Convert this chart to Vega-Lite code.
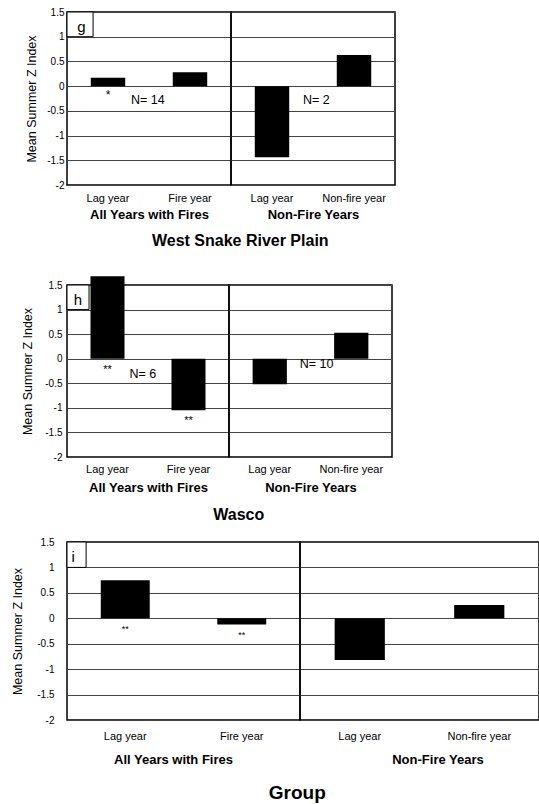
{
  "$schema": "https://vega.github.io/schema/vega-lite/v6.json",
  "padding": {"left": 10, "top": 6, "right": 0, "bottom": 0},
  "background": "white",
  "config": {
    "font": "Liberation Sans",
    "view": {"stroke": "black", "strokeWidth": 1.5},
    "axis": {"labelFont": "Liberation Sans", "titleFont": "Liberation Sans", "labelColor": "black", "titleColor": "black", "ticks": false, "domain": false},
    "axisX": {"grid": false, "labelAngle": 0, "labelFontSize": 11, "titleFontSize": 13, "titleFontWeight": "bold"},
    "axisY": {"grid": true, "gridColor": "#444", "gridOpacity": 1, "gridWidth": 1, "labelFontSize": 10, "titleFontSize": 12.5, "titleFontWeight": "normal"},
    "title": {"font": "Liberation Sans", "fontWeight": "bold", "color": "black"},
    "text": {"font": "Liberation Sans", "color": "black"}
  },
  "vconcat": [
    {
      "vconcat": [
        {
          "title": {"text": "West Snake River Plain", "orient": "bottom", "anchor": "middle", "frame": "bounds", "fontSize": 16, "offset": 11, "dx": 30},
          "bounds": "flush",
          "spacing": 0,
          "hconcat": [
            {
              "width": 164, "height": 173,
              "layer": [
                {
                  "data": {"values": [{"slot": "Lag year", "value": 0.17, "sig": "*"}, {"slot": "Fire year", "value": 0.28, "sig": ""}]},
                  "layer": [
                    {"mark": {"type": "bar", "color": "black"},
                     "encoding": {
                       "x": {"field": "slot", "type": "nominal", "sort": null, "scale": {"domain": ["Lag year", "Fire year"], "paddingInner": 0.58, "paddingOuter": 0.29}, "axis": {"title": "All Years with Fires", "labelPadding": 7, "titlePadding": 5}},
                       "y": {"field": "value", "type": "quantitative", "scale": {"domain": [-2, 1.5], "nice": false, "zero": false}, "axis": {"title": "Mean Summer Z Index", "values": [-2, -1.5, -1, -0.5, 0, 0.5, 1, 1.5], "labelExpr": "toString(datum.value)", "labelPadding": 3, "minExtent": 22, "maxExtent": 22, "titlePadding": 6.5}}
                     }},
                    {"transform": [{"filter": "datum.sig"}, {"calculate": "min(datum.value, 0)", "as": "ylow"}],
                     "mark": {"type": "text", "baseline": "top", "dy": 4, "fontSize": 12},
                     "encoding": {
                       "x": {"field": "slot", "type": "nominal", "sort": null, "axis": {"title": "All Years with Fires", "labelPadding": 7, "titlePadding": 5}},
                       "y": {"field": "ylow", "type": "quantitative", "axis": {"title": "Mean Summer Z Index", "values": [-2, -1.5, -1, -0.5, 0, 0.5, 1, 1.5], "labelExpr": "toString(datum.value)", "labelPadding": 3, "minExtent": 22, "maxExtent": 22, "titlePadding": 6.5}},
                       "text": {"field": "sig"}}},
                    {"data": {"values": [{"slot": "Lag year", "label": "N= 14"}]},
                     "mark": {"type": "text", "align": "left", "baseline": "middle", "dx": 23, "dy": 14, "fontSize": 12.5},
                     "encoding": {
                       "x": {"field": "slot", "type": "nominal", "sort": null, "axis": {"title": "All Years with Fires", "labelPadding": 7, "titlePadding": 5}},
                       "y": {"datum": 0, "type": "quantitative", "axis": {"title": "Mean Summer Z Index", "values": [-2, -1.5, -1, -0.5, 0, 0.5, 1, 1.5], "labelExpr": "toString(datum.value)", "labelPadding": 3, "minExtent": 22, "maxExtent": 22, "titlePadding": 6.5}},
                       "text": {"field": "label"}}}
                  ]
                },
                {
                  "data": {"values": [{"letter": "g"}]},
                  "layer": [
                    {"mark": {"type": "rect", "fill": "white", "stroke": "black", "strokeWidth": 1},
                     "encoding": {"x": {"datum": 0, "type": "quantitative", "scale": {"domain": [0, 1]}, "axis": null}, "x2": {"datum": 0.159},
                       "y": {"datum": 1.5, "type": "quantitative", "axis": {"title": "Mean Summer Z Index", "values": [-2, -1.5, -1, -0.5, 0, 0.5, 1, 1.5], "labelExpr": "toString(datum.value)", "labelPadding": 3, "minExtent": 22, "maxExtent": 22, "titlePadding": 6.5}}, "y2": {"datum": 1}}},
                    {"mark": {"type": "text", "fontSize": 15, "align": "center", "baseline": "alphabetic", "dy": -5},
                     "encoding": {"x": {"datum": 0.088, "type": "quantitative", "axis": null},
                       "y": {"datum": 1, "type": "quantitative", "axis": {"title": "Mean Summer Z Index", "values": [-2, -1.5, -1, -0.5, 0, 0.5, 1, 1.5], "labelExpr": "toString(datum.value)", "labelPadding": 3, "minExtent": 22, "maxExtent": 22, "titlePadding": 6.5}}, "text": {"field": "letter"}}}
                  ]
                }
              ],
              "resolve": {"scale": {"x": "independent"}}
            },
            {
              "width": 164, "height": 173,
              "data": {"values": [{"slot": "Lag year", "value": -1.44}, {"slot": "Non-fire year", "value": 0.63}]},
              "layer": [
                {"mark": {"type": "bar", "color": "black"},
                 "encoding": {
                   "x": {"field": "slot", "type": "nominal", "sort": null, "scale": {"domain": ["Lag year", "Non-fire year"], "paddingInner": 0.58, "paddingOuter": 0.29}, "axis": {"title": "Non-Fire Years", "labelPadding": 7, "titlePadding": 5}},
                   "y": {"field": "value", "type": "quantitative", "scale": {"domain": [-2, 1.5], "nice": false, "zero": false}, "axis": {"title": null, "labels": false, "values": [-2, -1.5, -1, -0.5, 0, 0.5, 1, 1.5]}}
                 }},
                {"data": {"values": [{"slot": "Lag year", "label": "N= 2"}]},
                 "mark": {"type": "text", "align": "left", "baseline": "middle", "dx": 31, "dy": 14, "fontSize": 12.5},
                 "encoding": {
                   "x": {"field": "slot", "type": "nominal", "sort": null, "axis": {"title": "Non-Fire Years", "labelPadding": 7, "titlePadding": 5}},
                   "y": {"datum": 0, "type": "quantitative", "axis": {"title": null, "labels": false, "values": [-2, -1.5, -1, -0.5, 0, 0.5, 1, 1.5]}},
                   "text": {"field": "label"}}}
              ]
            }
          ]
        },
        {
          "title": {"text": "Wasco", "orient": "bottom", "anchor": "middle", "frame": "bounds", "fontSize": 16, "offset": 12, "dx": 32},
          "bounds": "flush",
          "spacing": 0,
          "hconcat": [
            {
              "width": 162, "height": 172,
              "layer": [
                {
                  "data": {"values": [{"slot": "Lag year", "value": 1.68, "sig": "**"}, {"slot": "Fire year", "value": -1.05, "sig": "**"}]},
                  "layer": [
                    {"mark": {"type": "bar", "color": "black"},
                     "encoding": {
                       "x": {"field": "slot", "type": "nominal", "sort": null, "scale": {"domain": ["Lag year", "Fire year"], "paddingInner": 0.58, "paddingOuter": 0.29}, "axis": {"title": "All Years with Fires", "labelPadding": 6.5, "titlePadding": 7}},
                       "y": {"field": "value", "type": "quantitative", "scale": {"domain": [-2, 1.5], "nice": false, "zero": false}, "axis": {"title": "Mean Summer Z Index", "values": [-2, -1.5, -1, -0.5, 0, 0.5, 1, 1.5], "labelExpr": "toString(datum.value)", "labelPadding": 5, "minExtent": 22, "maxExtent": 22, "titlePadding": 10.5}}
                     }},
                    {"transform": [{"filter": "datum.sig"}, {"calculate": "min(datum.value, 0)", "as": "ylow"}],
                     "mark": {"type": "text", "baseline": "top", "dy": 5, "fontSize": 11},
                     "encoding": {
                       "x": {"field": "slot", "type": "nominal", "sort": null, "axis": {"title": "All Years with Fires", "labelPadding": 6.5, "titlePadding": 7}},
                       "y": {"field": "ylow", "type": "quantitative", "axis": {"title": "Mean Summer Z Index", "values": [-2, -1.5, -1, -0.5, 0, 0.5, 1, 1.5], "labelExpr": "toString(datum.value)", "labelPadding": 5, "minExtent": 22, "maxExtent": 22, "titlePadding": 10.5}},
                       "text": {"field": "sig"}}},
                    {"data": {"values": [{"slot": "Lag year", "label": "N= 6"}]},
                     "mark": {"type": "text", "align": "left", "baseline": "middle", "dx": 22, "dy": 15, "fontSize": 12.5},
                     "encoding": {
                       "x": {"field": "slot", "type": "nominal", "sort": null, "axis": {"title": "All Years with Fires", "labelPadding": 6.5, "titlePadding": 7}},
                       "y": {"datum": 0, "type": "quantitative", "axis": {"title": "Mean Summer Z Index", "values": [-2, -1.5, -1, -0.5, 0, 0.5, 1, 1.5], "labelExpr": "toString(datum.value)", "labelPadding": 5, "minExtent": 22, "maxExtent": 22, "titlePadding": 10.5}},
                       "text": {"field": "label"}}}
                  ]
                },
                {
                  "data": {"values": [{"letter": "h"}]},
                  "layer": [
                    {"mark": {"type": "rect", "fill": "white", "stroke": "black", "strokeWidth": 1},
                     "encoding": {"x": {"datum": 0, "type": "quantitative", "scale": {"domain": [0, 1]}, "axis": null}, "x2": {"datum": 0.136},
                       "y": {"datum": 1.5, "type": "quantitative", "axis": {"title": "Mean Summer Z Index", "values": [-2, -1.5, -1, -0.5, 0, 0.5, 1, 1.5], "labelExpr": "toString(datum.value)", "labelPadding": 5, "minExtent": 22, "maxExtent": 22, "titlePadding": 10.5}}, "y2": {"datum": 1}}},
                    {"mark": {"type": "text", "fontSize": 15, "align": "center", "baseline": "alphabetic", "dy": -5},
                     "encoding": {"x": {"datum": 0.068, "type": "quantitative", "axis": null},
                       "y": {"datum": 1, "type": "quantitative", "axis": {"title": "Mean Summer Z Index", "values": [-2, -1.5, -1, -0.5, 0, 0.5, 1, 1.5], "labelExpr": "toString(datum.value)", "labelPadding": 5, "minExtent": 22, "maxExtent": 22, "titlePadding": 10.5}}, "text": {"field": "letter"}}}
                  ]
                }
              ],
              "resolve": {"scale": {"x": "independent"}}
            },
            {
              "width": 163, "height": 172,
              "data": {"values": [{"slot": "Lag year", "value": -0.52}, {"slot": "Non-fire year", "value": 0.53}]},
              "layer": [
                {"mark": {"type": "bar", "color": "black"},
                 "encoding": {
                   "x": {"field": "slot", "type": "nominal", "sort": null, "scale": {"domain": ["Lag year", "Non-fire year"], "paddingInner": 0.58, "paddingOuter": 0.29}, "axis": {"title": "Non-Fire Years", "labelPadding": 6.5, "titlePadding": 7}},
                   "y": {"field": "value", "type": "quantitative", "scale": {"domain": [-2, 1.5], "nice": false, "zero": false}, "axis": {"title": null, "labels": false, "values": [-2, -1.5, -1, -0.5, 0, 0.5, 1, 1.5]}}
                 }},
                {"data": {"values": [{"slot": "Lag year", "label": "N= 10"}]},
                 "mark": {"type": "text", "align": "left", "baseline": "middle", "dx": 30, "dy": 5, "fontSize": 12.5},
                 "encoding": {
                   "x": {"field": "slot", "type": "nominal", "sort": null, "axis": {"title": "Non-Fire Years", "labelPadding": 6.5, "titlePadding": 7}},
                   "y": {"datum": 0, "type": "quantitative", "axis": {"title": null, "labels": false, "values": [-2, -1.5, -1, -0.5, 0, 0.5, 1, 1.5]}},
                   "text": {"field": "label"}}}
              ]
            }
          ]
        }
      ],
      "spacing": 26
    },
    {
      "title": {"text": "Group", "orient": "bottom", "anchor": "middle", "frame": "bounds", "fontSize": 19, "offset": 17, "dx": 22},
      "bounds": "flush",
      "spacing": 0,
      "hconcat": [
        {
          "width": 233, "height": 178,
          "layer": [
            {
              "data": {"values": [{"slot": "Lag year", "value": 0.75, "sig": "**"}, {"slot": "Fire year", "value": -0.12, "sig": "**"}]},
              "layer": [
                {"mark": {"type": "bar", "color": "black"},
                 "encoding": {
                   "x": {"field": "slot", "type": "nominal", "sort": null, "scale": {"domain": ["Lag year", "Fire year"], "paddingInner": 0.58, "paddingOuter": 0.29}, "axis": {"title": "All Years with Fires", "labelPadding": 10, "titlePadding": 12, "titleX": 106}},
                   "y": {"field": "value", "type": "quantitative", "scale": {"domain": [-2, 1.5], "nice": false, "zero": false}, "axis": {"title": "Mean Summer Z Index", "values": [-2, -1.5, -1, -0.5, 0, 0.5, 1, 1.5], "labelExpr": "toString(datum.value)", "labelPadding": 13, "minExtent": 22, "maxExtent": 22, "titlePadding": 20.5}}
                 }},
                {"transform": [{"filter": "datum.sig"}, {"calculate": "min(datum.value, 0)", "as": "ylow"}],
                 "mark": {"type": "text", "baseline": "top", "dy": 7, "fontSize": 9},
                 "encoding": {
                   "x": {"field": "slot", "type": "nominal", "sort": null, "axis": {"title": "All Years with Fires", "labelPadding": 10, "titlePadding": 12, "titleX": 106}},
                   "y": {"field": "ylow", "type": "quantitative", "axis": {"title": "Mean Summer Z Index", "values": [-2, -1.5, -1, -0.5, 0, 0.5, 1, 1.5], "labelExpr": "toString(datum.value)", "labelPadding": 13, "minExtent": 22, "maxExtent": 22, "titlePadding": 20.5}},
                   "text": {"field": "sig"}}}
              ]
            },
            {
              "data": {"values": [{"letter": "i"}]},
              "layer": [
                {"mark": {"type": "rect", "fill": "white", "stroke": "black", "strokeWidth": 1},
                 "encoding": {"x": {"datum": 0, "type": "quantitative", "scale": {"domain": [0, 1]}, "axis": null}, "x2": {"datum": 0.082},
                   "y": {"datum": 1.5, "type": "quantitative", "axis": {"title": "Mean Summer Z Index", "values": [-2, -1.5, -1, -0.5, 0, 0.5, 1, 1.5], "labelExpr": "toString(datum.value)", "labelPadding": 13, "minExtent": 22, "maxExtent": 22, "titlePadding": 20.5}}, "y2": {"datum": 1}}},
                {"mark": {"type": "text", "fontSize": 15, "align": "center", "baseline": "alphabetic", "dy": -5},
                 "encoding": {"x": {"datum": 0.026, "type": "quantitative", "axis": null},
                   "y": {"datum": 1, "type": "quantitative", "axis": {"title": "Mean Summer Z Index", "values": [-2, -1.5, -1, -0.5, 0, 0.5, 1, 1.5], "labelExpr": "toString(datum.value)", "labelPadding": 13, "minExtent": 22, "maxExtent": 22, "titlePadding": 20.5}}, "text": {"field": "letter"}}}
              ]
            }
          ],
          "resolve": {"scale": {"x": "independent"}}
        },
        {
          "width": 239, "height": 178,
          "data": {"values": [{"slot": "Lag year", "value": -0.82}, {"slot": "Non-fire year", "value": 0.26}]},
          "layer": [
            {"mark": {"type": "bar", "color": "black"},
             "encoding": {
               "x": {"field": "slot", "type": "nominal", "sort": null, "scale": {"domain": ["Lag year", "Non-fire year"], "paddingInner": 0.58, "paddingOuter": 0.29}, "axis": {"title": "Non-Fire Years", "labelPadding": 10, "titlePadding": 12, "titleX": 137.5}},
               "y": {"field": "value", "type": "quantitative", "scale": {"domain": [-2, 1.5], "nice": false, "zero": false}, "axis": {"title": null, "labels": false, "values": [-2, -1.5, -1, -0.5, 0, 0.5, 1, 1.5]}}
             }}
          ]
        }
      ]
    }
  ],
  "spacing": 12
}
